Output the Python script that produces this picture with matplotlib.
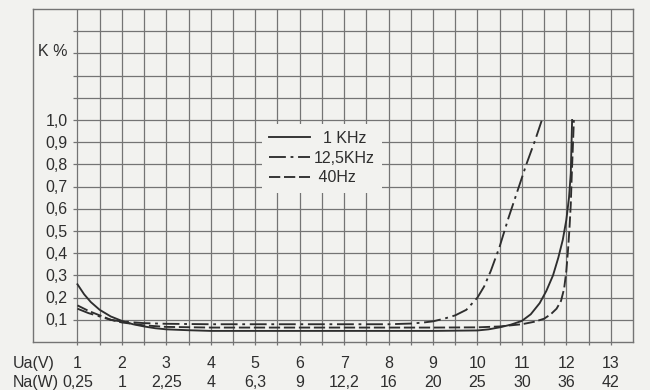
import matplotlib
matplotlib.use("Agg")
import matplotlib.pyplot as plt
import numpy as np

plt.rcParams["font.family"] = ["Liberation Sans", "DejaVu Sans"]

# distortion curves
x_1k = [1, 1.15, 1.3, 1.5, 1.75, 2, 2.25, 2.5, 2.75, 3, 3.5, 4, 5, 6, 7, 8, 9, 10, 10.25, 10.5, 10.75,
        11, 11.2, 11.4, 11.55, 11.7, 11.82, 11.92, 12.0, 12.06, 12.1, 12.13]
y_1k = [0.26, 0.215, 0.18, 0.145, 0.115, 0.095, 0.08, 0.07, 0.062, 0.057, 0.053, 0.05, 0.05, 0.05, 0.05, 0.05, 0.05, 0.052, 0.057, 0.066, 0.078,
        0.095, 0.125, 0.175, 0.23, 0.3, 0.38, 0.46, 0.55, 0.65, 0.76, 1.0]

x_12k = [1, 1.25, 1.5, 1.75, 2, 2.5, 3, 4, 5, 6, 7, 8, 8.5, 8.75, 9, 9.25, 9.5, 9.75, 10, 10.15, 10.3,
         10.5, 10.7, 10.9, 11.1, 11.3, 11.45]
y_12k = [0.15, 0.13, 0.115, 0.1, 0.092, 0.085, 0.082, 0.08, 0.08, 0.08, 0.08, 0.08, 0.083, 0.087, 0.093, 0.105, 0.12, 0.145, 0.2, 0.25, 0.32,
         0.43, 0.56, 0.68, 0.8, 0.91, 1.0]

x_40 = [1, 1.25, 1.5, 1.75, 2, 2.5, 3, 4, 5, 6, 7, 8, 9, 10, 10.5, 11, 11.3, 11.5, 11.65, 11.78, 11.88,
        11.95, 12.0, 12.04, 12.07, 12.1, 12.12, 12.17]
y_40 = [0.165, 0.14, 0.12, 0.1, 0.088, 0.075, 0.068, 0.065, 0.065, 0.065, 0.065, 0.065, 0.065, 0.066, 0.07, 0.08, 0.092, 0.105, 0.125, 0.15, 0.185,
        0.24, 0.32, 0.42, 0.51, 0.62, 0.74, 1.0]

labels = ["  1 KHz", "12,5KHz", " 40Hz"]

y_ticks = [0.1, 0.2, 0.3, 0.4, 0.5, 0.6, 0.7, 0.8, 0.9, 1.0]
y_labels = ["0,1", "0,2", "0,3", "0,4", "0,5", "0,6", "0,7", "0,8", "0,9", "1,0"]

ua_ticks = [1, 2, 3, 4, 5, 6, 7, 8, 9, 10, 11, 12, 13]
na_labels = ["0,25", "1", "2,25", "4", "6,3", "9", "12,2", "16", "20", "25", "30", "36", "42"]

bg = "#f2f2ef"
ink = "#2e2e2e"
grid_c = "#747474"

fig = plt.figure(figsize=(6.5, 3.9), dpi=100, facecolor=bg)
ax = fig.add_axes([33 / 650, 48 / 390, 600 / 650, 333 / 390], facecolor=bg)
ax.set_xlim(0, 13.5)
ax.set_ylim(0, 1.5)
ax.set_xticks([])
ax.set_yticks([])
for s in ax.spines.values():
    s.set_color(grid_c)
    s.set_linewidth(1.0)

# grid: vertical lines poke out below the frame, horizontal ones start near x=1
ax.vlines(np.arange(1, 13.01, 0.5), -0.012, 1.5, color=grid_c, lw=0.9, clip_on=False, zorder=1)
ax.hlines(np.arange(0.1, 1.45, 0.1), 0.9, 13.5, color=grid_c, lw=0.9, zorder=1)

ax.plot(x_1k, y_1k, color=ink, lw=1.35, ls="-", label=labels[0], zorder=3)
ax.plot(x_12k, y_12k, color=ink, lw=1.35, ls=(0, (9, 2.5, 1.5, 2.5)), label=labels[1], zorder=3)
ax.plot(x_40, y_40, color=ink, lw=1.35, ls=(0, (6, 2)), label=labels[2], zorder=3)

leg = ax.legend(loc="center", bbox_to_anchor=(6.5, 0.828), bbox_transform=ax.transData,
                frameon=True, fontsize=11.5, handlelength=2.6, handletextpad=0.25,
                labelspacing=0.3, borderpad=0.45, fancybox=False)
leg.get_frame().set_facecolor(bg)
leg.get_frame().set_edgecolor("none")
leg.get_frame().set_alpha(1)
leg.set_zorder(5)
for t in leg.get_texts():
    t.set_color(ink)

for v, lab in zip(y_ticks, y_labels):
    ax.text(0.78, v - 0.025, lab, ha="right", va="baseline", fontsize=11.5, color=ink)
ax.text(0.78, 1.29, "K %", ha="right", va="baseline", fontsize=11.5, color=ink)

tr = ax.get_xaxis_transform()
for v, lab in zip(ua_ticks, na_labels):
    ax.text(v, -0.078, str(v), ha="center", va="baseline", fontsize=11.5, color=ink, transform=tr, clip_on=False)
    ax.text(v, -0.135, lab, ha="center", va="baseline", fontsize=11.5, color=ink, transform=tr, clip_on=False)
ax.text(-0.45, -0.078, "Ua(V)", ha="left", va="baseline", fontsize=11.5, color=ink, transform=tr, clip_on=False)
ax.text(-0.45, -0.135, "Na(W)", ha="left", va="baseline", fontsize=11.5, color=ink, transform=tr, clip_on=False)

fig.savefig("out.png", dpi=100, facecolor=bg)
